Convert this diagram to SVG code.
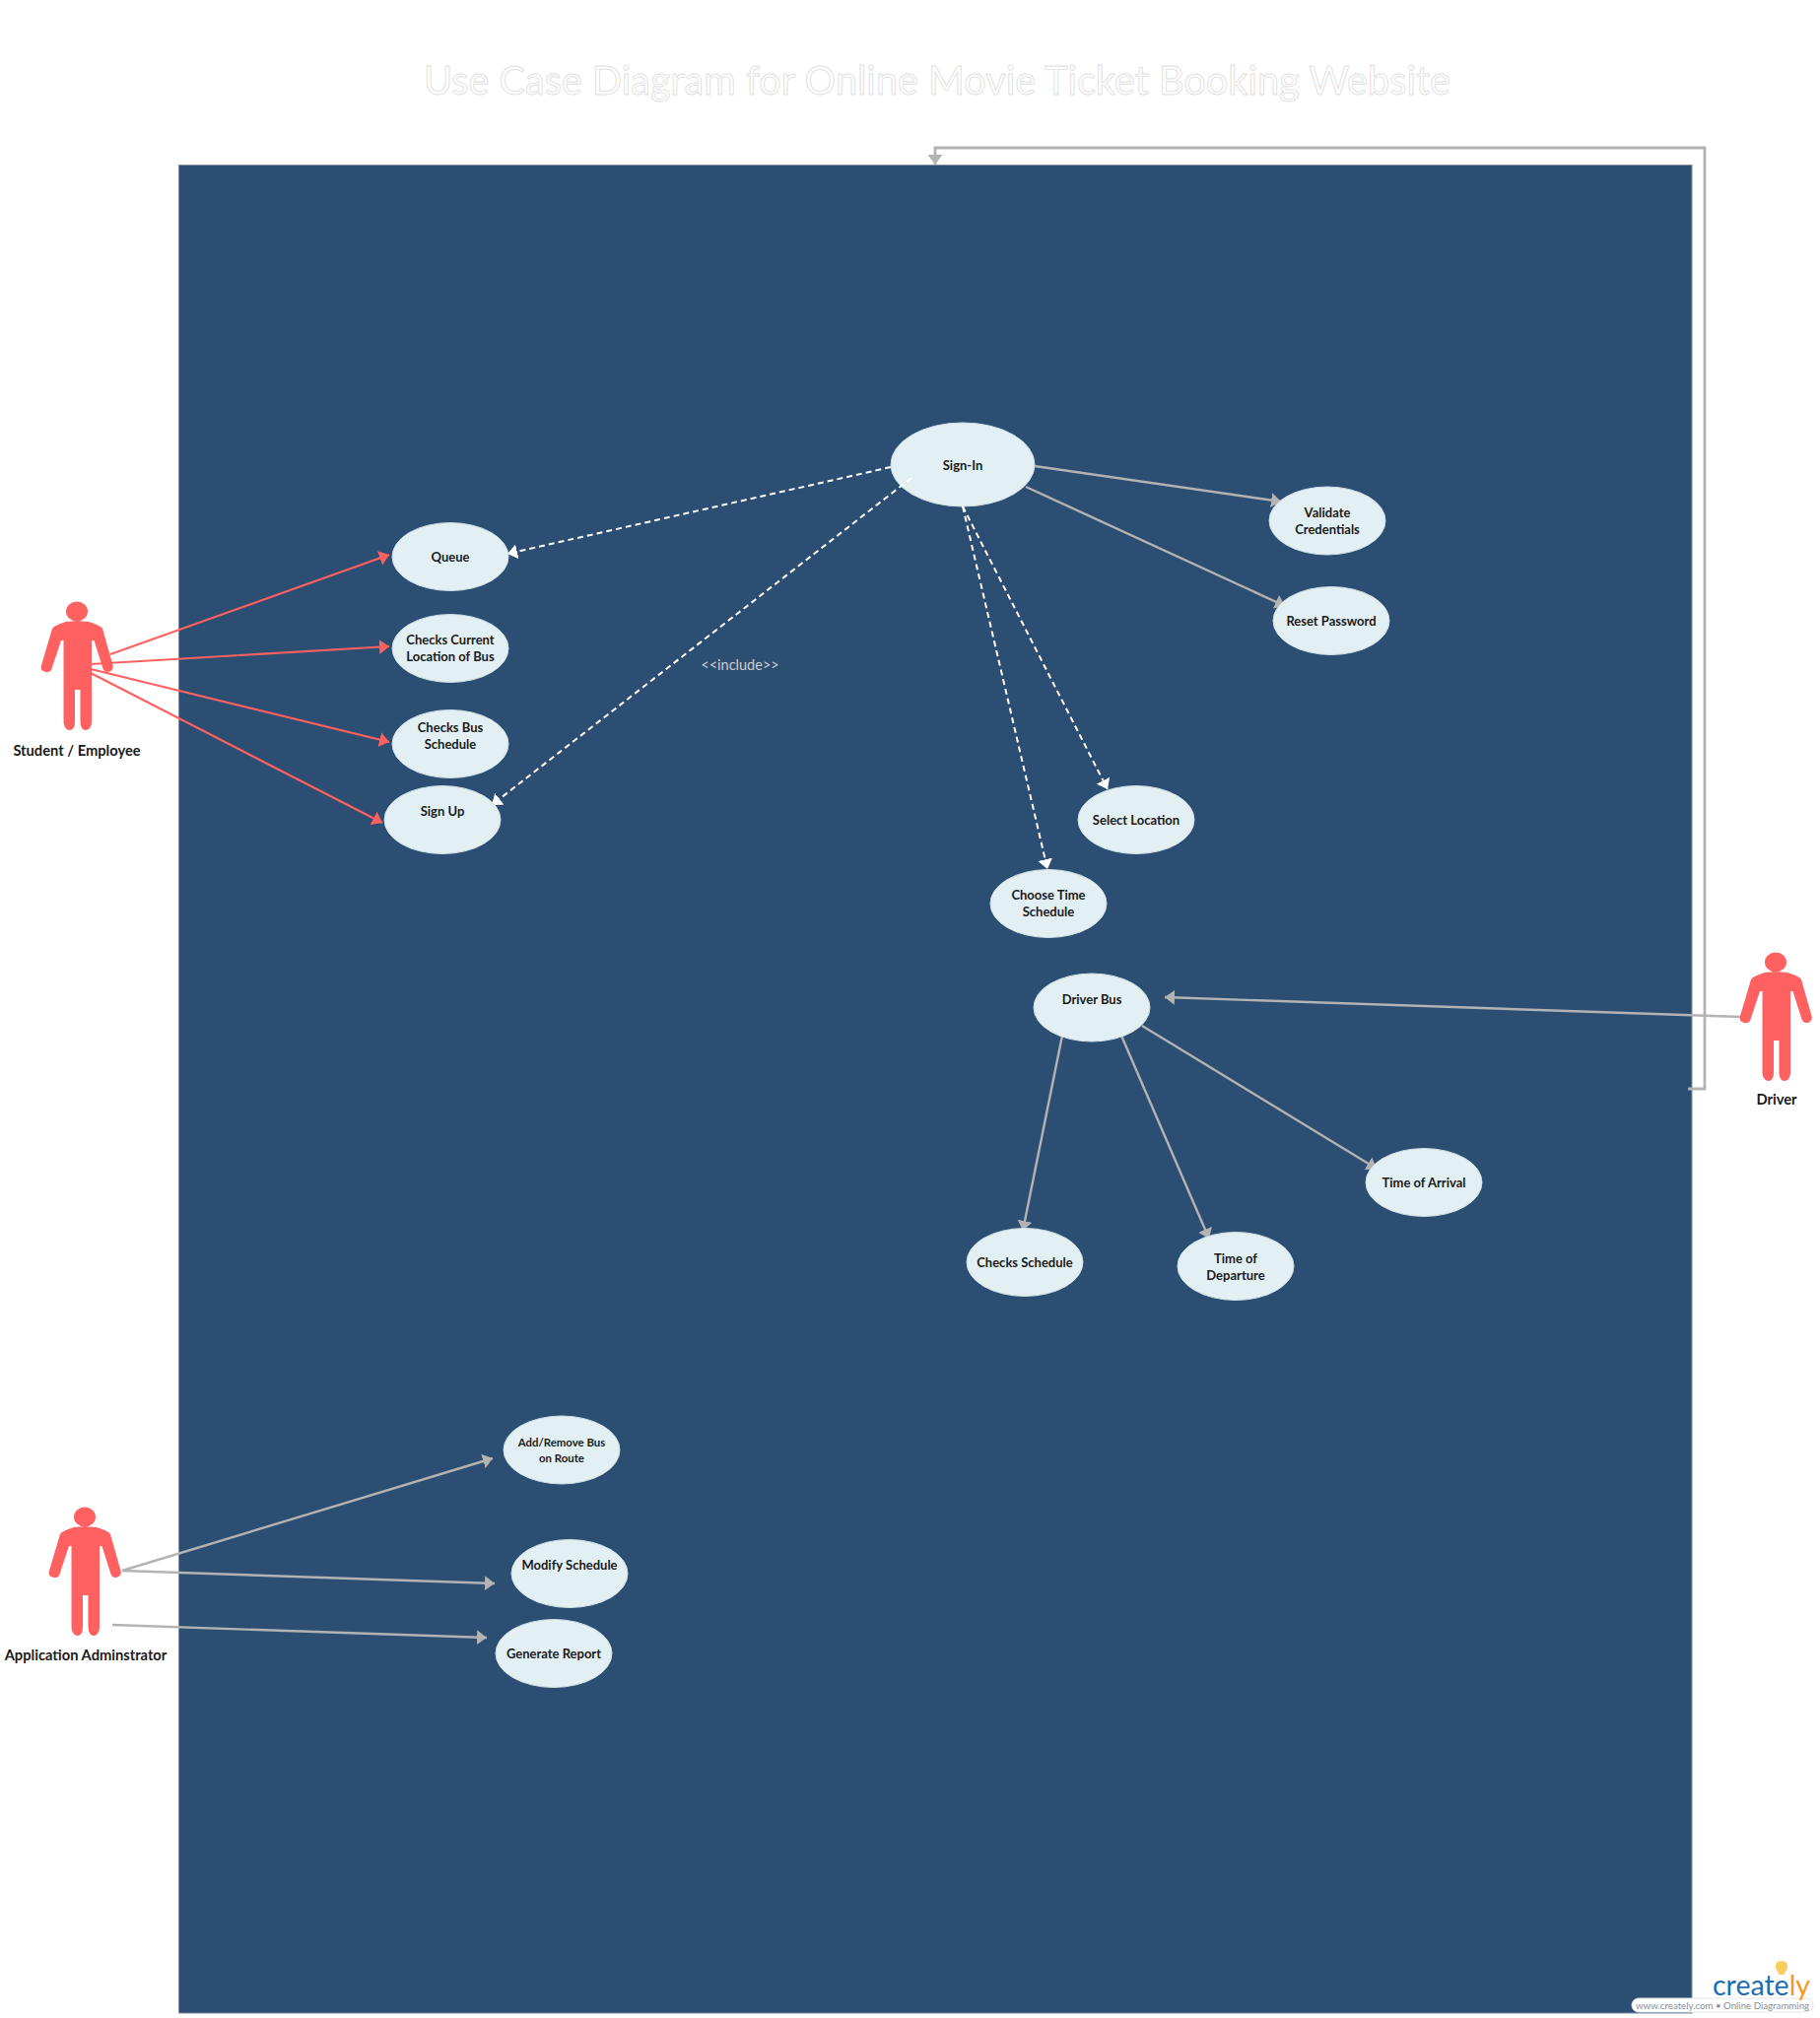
<svg xmlns="http://www.w3.org/2000/svg" width="1847" height="2048" viewBox="0 0 1847 2048">
<style>
text{font-family:Lato,"Open Sans",sans-serif}
.uc{fill:#e2f0f3;stroke:#cfe0e4;stroke-width:1}
.t{font-size:13px;font-weight:700;fill:#1a1a1a;text-anchor:middle}
.a{font-size:14.700px;font-weight:700;fill:#1a1a1a;text-anchor:middle}
.red{stroke:#ff6161;stroke-width:2.200;fill:none}
.gr{stroke:#b3b3b3;stroke-width:2.400;fill:none}
.da{stroke:#fff;stroke-width:2;fill:none;stroke-dasharray:6 4}
</style>
<defs>
<marker id="mr" markerUnits="userSpaceOnUse" markerWidth="12" markerHeight="16" refX="10" refY="8" orient="auto"><path d="M0 0.500L10 8L0 15.500Z" fill="#ff6161"/></marker>
<marker id="mg" markerUnits="userSpaceOnUse" markerWidth="12" markerHeight="16" refX="10" refY="8" orient="auto"><path d="M0 0.500L10 8L0 15.500Z" fill="#b3b3b3"/></marker>
<marker id="mw" markerUnits="userSpaceOnUse" markerWidth="12" markerHeight="16" refX="10" refY="8" orient="auto"><path d="M0 0.500L10 8L0 15.500Z" fill="#fff"/></marker>
<g id="actor">
<ellipse cx="0" cy="9.500" rx="11" ry="10" fill="#ff6161"/>
<path d="M0 19C-6 20-10 19-14 21C-19 23-23 24-25 27L-36 64C-37.500 69-34 71-30 71C-27 71-25.500 69-25 66L-16 39L-13.500 39L-13.500 121C-13.500 127-10 130-7.500 130C-4 130-2 127-2 121L-2 89L3.500 89L3.500 121C3.500 127 6 130 9 130C12 130 15 127 15 121L15 39L17.500 39L26 66C26.500 69 29 71 31 71C35 71 37.500 68 36.500 64L26 27C24 24 20 23 15 21C11 19 6 20 0 19Z" fill="#ff6161"/>
</g>
</defs>
<rect width="1847" height="2048" fill="#fff"/>
<g id="boundary"><rect x="181.500" y="167.500" width="1535.500" height="1875.500" fill="#2c4e72" stroke="#7f8fa1" stroke-width="1"/></g>
<text id="title" x="951" y="96" font-size="40" text-anchor="middle" fill="#fff" stroke="#dedede" stroke-width="0.900" textLength="1042" lengthAdjust="spacingAndGlyphs">Use Case Diagram for Online Movie Ticket Booking Website</text>
<g id="connectors">
<path class="red" marker-end="url(#mr)" d="M112 664L395 563"/>
<path class="red" marker-end="url(#mr)" d="M92 674L395 656"/>
<path class="red" marker-end="url(#mr)" d="M92 679L395 753"/>
<path class="red" marker-end="url(#mr)" d="M92 683L388 835"/>
<path class="gr" marker-end="url(#mg)" d="M124 1594L500 1480"/>
<path class="gr" marker-end="url(#mg)" d="M124 1594L502 1607"/>
<path class="gr" marker-end="url(#mg)" d="M114 1649L494 1662"/>
<path class="gr" marker-end="url(#mg)" d="M1767 1032L1182 1012"/>
<path class="gr" style="stroke-width:2.800" marker-end="url(#mg)" d="M1713 1105H1730V150H949V167"/>
<path class="gr" marker-end="url(#mg)" d="M1050 473L1300 509"/>
<path class="gr" marker-end="url(#mg)" d="M1041 494L1304 615"/>
<path class="gr" marker-end="url(#mg)" d="M1078 1051L1038 1249"/>
<path class="gr" marker-end="url(#mg)" d="M1138 1051L1227 1257"/>
<path class="gr" marker-end="url(#mg)" d="M1159 1041L1397 1186"/>
</g>
<g id="sign-in"><ellipse class="uc" cx="977" cy="471.500" rx="73" ry="42.500"/><text class="t" x="977" y="477">Sign-In</text></g>
<g id="connectors-dashed">
<path class="da" marker-end="url(#mw)" d="M904 474L515 562"/>
<path class="da" marker-end="url(#mw)" d="M925 485L499 817"/>
<path class="da" marker-end="url(#mw)" d="M977 514L1124 801"/>
<path class="da" marker-end="url(#mw)" d="M977 514L1063 882"/>
</g>
<text id="include" x="751" y="680" font-size="14.500" fill="#c9ced3" text-anchor="middle">&lt;&lt;include&gt;&gt;</text>
<g id="queue"><ellipse class="uc" cx="457" cy="565" rx="59" ry="34.500"/><text class="t" x="457" y="570">Queue</text></g>
<g id="checks-current"><ellipse class="uc" cx="457" cy="658" rx="59" ry="34.500"/><text class="t" x="457" y="654">Checks Current</text><text class="t" x="457" y="671">Location of Bus</text></g>
<g id="checks-bus"><ellipse class="uc" cx="457" cy="755" rx="59" ry="34.500"/><text class="t" x="457" y="743">Checks Bus</text><text class="t" x="457" y="760">Schedule</text></g>
<g id="sign-up"><ellipse class="uc" cx="449" cy="832" rx="59" ry="34.500"/><text class="t" x="449" y="828">Sign Up</text></g>
<g id="validate"><ellipse class="uc" cx="1347" cy="528.500" rx="59" ry="34.500"/><text class="t" x="1347" y="525">Validate</text><text class="t" x="1347" y="542">Credentials</text></g>
<g id="reset"><ellipse class="uc" cx="1351" cy="630" rx="59" ry="34.500"/><text class="t" x="1351" y="635">Reset Password</text></g>
<g id="select-location"><ellipse class="uc" cx="1153" cy="832" rx="59" ry="34.500"/><text class="t" x="1153" y="837">Select Location</text></g>
<g id="choose-time"><ellipse class="uc" cx="1064" cy="917" rx="59" ry="34.500"/><text class="t" x="1064" y="913">Choose Time</text><text class="t" x="1064" y="930">Schedule</text></g>
<g id="driver-bus"><ellipse class="uc" cx="1108" cy="1022.500" rx="59" ry="34.500"/><text class="t" x="1108" y="1019">Driver Bus</text></g>
<g id="time-arrival"><ellipse class="uc" cx="1445" cy="1200" rx="59" ry="34.500"/><text class="t" x="1445" y="1205">Time of Arrival</text></g>
<g id="time-departure"><ellipse class="uc" cx="1254" cy="1285" rx="59" ry="34.500"/><text class="t" x="1254" y="1282">Time of</text><text class="t" x="1254" y="1299">Departure</text></g>
<g id="checks-schedule"><ellipse class="uc" cx="1040" cy="1281" rx="59" ry="34.500"/><text class="t" x="1040" y="1286">Checks Schedule</text></g>
<g id="add-remove"><ellipse class="uc" cx="570" cy="1471.500" rx="59" ry="34.500"/><text class="t" style="font-size:11.400px" x="570" y="1468">Add/Remove Bus</text><text class="t" style="font-size:11.400px" x="570" y="1484">on Route</text></g>
<g id="modify"><ellipse class="uc" cx="578" cy="1597" rx="59" ry="34.500"/><text class="t" x="578" y="1593">Modify Schedule</text></g>
<g id="generate"><ellipse class="uc" cx="562" cy="1678" rx="59" ry="34.500"/><text class="t" x="562" y="1683">Generate Report</text></g>
<g id="actor-student"><use href="#actor" x="78" y="611"/><text class="a" x="78" y="767">Student / Employee</text></g>
<g id="actor-admin"><use href="#actor" x="86" y="1530"/><text class="a" x="87" y="1685">Application Adminstrator</text></g>
<g id="actor-driver"><use href="#actor" x="1802" y="967"/><text class="a" x="1803" y="1121">Driver</text></g>
<g id="logo">
<rect x="1656" y="2028" width="184" height="14" rx="7" fill="#fff" stroke="#e4e4e4"/>
<text x="1748" y="2039" font-size="9.700" fill="#8a8f93" text-anchor="middle">www.creately.com • Online Diagramming</text>
<path d="M1808 1990C1803 1990 1801 1994 1802 1997C1803 2000 1805 2002 1805.500 2004H1810.500C1811 2002 1813 2000 1814 1997C1815 1994 1813 1990 1808 1990Z" fill="#f8cf5f"/>
<text x="1738" y="2025" font-size="28.500" fill="#1c6db4">create<tspan fill="#f39a1f">ly</tspan></text>
</g>
</svg>
